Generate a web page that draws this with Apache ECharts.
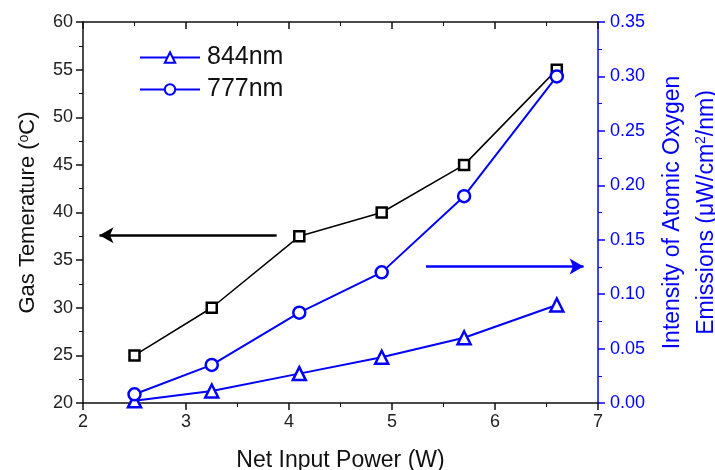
<!DOCTYPE html>
<html>
<head>
<meta charset="utf-8">
<script src="https://cdn.jsdelivr.net/npm/echarts@6/dist/echarts.min.js"></script>
<style>
  html, body { margin: 0; padding: 0; background: #fff; }
  #chart { width: 715px; height: 470px; }
</style>
</head>
<body>
<div id="chart"></div>
<script>
// net input power (W)
var power = [2.5, 3.25, 4.1, 4.9, 5.7, 6.6];
// gas temperature (left axis)
var gasTemp = [25, 30, 37.5, 40, 45, 55];
// emission intensity (right axis)
var em844 = [0.002, 0.011, 0.027, 0.042, 0.060, 0.090];
var em777 = [0.008, 0.035, 0.083, 0.120, 0.190, 0.300];

function pairs(ys) {
    return power.map(function (x, i) { return [x, ys[i]]; });
}

var font = '"Liberation Sans", Arial, sans-serif';
var blue = '#0000ff';

var chart = echarts.init(document.getElementById('chart'));
var option = {
    animation: false,
    textStyle: { fontFamily: font },
    grid: { left: 83, right: 117, top: 22, bottom: 67, outerBoundsMode: 'none' },
    legend: {
        data: ['844nm', '777nm'],
        orient: 'vertical',
        left: 134,
        top: 40,
        itemWidth: 60,
        itemHeight: 13,
        itemGap: 7,
        textStyle: { fontSize: 25, color: '#111', fontFamily: font, padding: [0, 0, 0, 2] }
    },
    xAxis: [
        {
            type: 'value',
            min: 2, max: 7, interval: 1,
            name: 'Net Input Power (W)',
            nameLocation: 'middle',
            nameGap: 46,
            nameTextStyle: { fontSize: 23, color: '#111' },
            axisLine: { lineStyle: { color: '#111', width: 1.5 } },
            axisTick: { inside: false, length: 7, lineStyle: { color: '#111', width: 1.5 } },
            minorTick: { show: true, splitNumber: 2, length: 4, lineStyle: { color: '#111', width: 1 } },
            axisLabel: { fontSize: 18, color: '#222', margin: 10 },
            splitLine: { show: false }
        },
        {
            type: 'value',
            position: 'top',
            min: 2, max: 7, interval: 1,
            axisLine: { show: true, lineStyle: { color: '#111', width: 1.5 } },
            axisTick: { inside: true, length: 7, lineStyle: { color: '#111', width: 1.5 } },
            minorTick: { show: true, splitNumber: 2, length: 4, lineStyle: { color: '#111', width: 1 } },
            axisLabel: { show: false },
            splitLine: { show: false }
        }
    ],
    yAxis: [
        {
            type: 'value',
            min: 20, max: 60, interval: 5,
            name: 'Gas Temerature ({sup|o}C)',
            nameLocation: 'middle',
            nameGap: 44,
            nameRotate: 90,
            nameTextStyle: {
                fontSize: 22, color: '#111',
                rich: { sup: { fontSize: 14, verticalAlign: 'top', padding: [0, 0, 8, 0], color: '#111' } }
            },
            axisLine: { show: true, lineStyle: { color: '#111', width: 1.5 } },
            axisTick: { inside: false, length: 7, lineStyle: { color: '#111', width: 1.5 } },
            minorTick: { show: true, splitNumber: 2, length: 4, lineStyle: { color: '#111', width: 1 } },
            axisLabel: { fontSize: 18, color: '#222', margin: 10 },
            splitLine: { show: false }
        },
        {
            type: 'value',
            position: 'right',
            min: 0, max: 0.35, interval: 0.05,
            name: 'Intensity of Atomic Oxygen\nEmissions (μW/cm{sup|2}/nm)',
            nameLocation: 'middle',
            nameGap: 52,
            nameRotate: 90,
            nameTextStyle: {
                fontSize: 23, color: blue, lineHeight: 34,
                rich: { sup: { fontSize: 14, color: blue, padding: [0, 0, 12, 0] } }
            },
            axisLine: { show: true, lineStyle: { color: blue, width: 1.5 } },
            axisTick: { inside: false, length: 7, lineStyle: { color: blue, width: 1.5 } },
            minorTick: { show: true, splitNumber: 2, length: 4, lineStyle: { color: blue, width: 1 } },
            axisLabel: {
                fontSize: 18, color: blue, margin: 12,
                formatter: function (v) { return v.toFixed(2); }
            },
            splitLine: { show: false }
        }
    ],
    series: [
        {
            name: 'Gas temperature',
            type: 'line',
            yAxisIndex: 0,
            data: pairs(gasTemp),
            symbol: 'rect',
            symbolSize: 10,
            itemStyle: { color: '#fff', borderColor: '#000', borderWidth: 2.5 },
            lineStyle: { color: '#000', width: 1.5 },
            markLine: {
                silent: true,
                symbol: ['none', 'arrow'],
                symbolSize: [12, 14],
                label: { show: false },
                lineStyle: { color: '#000', width: 2.5, type: 'solid' },
                data: [[{ coord: [3.88, 37.6] }, { coord: [2.16, 37.6] }]]
            }
        },
        {
            name: '844nm',
            type: 'line',
            yAxisIndex: 1,
            data: pairs(em844),
            symbol: 'triangle',
            symbolSize: 13,
            itemStyle: { color: '#fff', borderColor: blue, borderWidth: 2.5 },
            lineStyle: { color: blue, width: 2 }
        },
        {
            name: '777nm',
            type: 'line',
            yAxisIndex: 1,
            data: pairs(em777),
            symbol: 'circle',
            symbolSize: 12,
            itemStyle: { color: '#fff', borderColor: blue, borderWidth: 2.5 },
            lineStyle: { color: blue, width: 2 },
            markLine: {
                silent: true,
                symbol: ['none', 'arrow'],
                symbolSize: [12, 14],
                label: { show: false },
                lineStyle: { color: blue, width: 2.5, type: 'solid' },
                data: [[{ coord: [5.33, 0.1255] }, { coord: [6.86, 0.1255] }]]
            }
        }
    ]
};
chart.setOption(option);
</script>
</body>
</html>
